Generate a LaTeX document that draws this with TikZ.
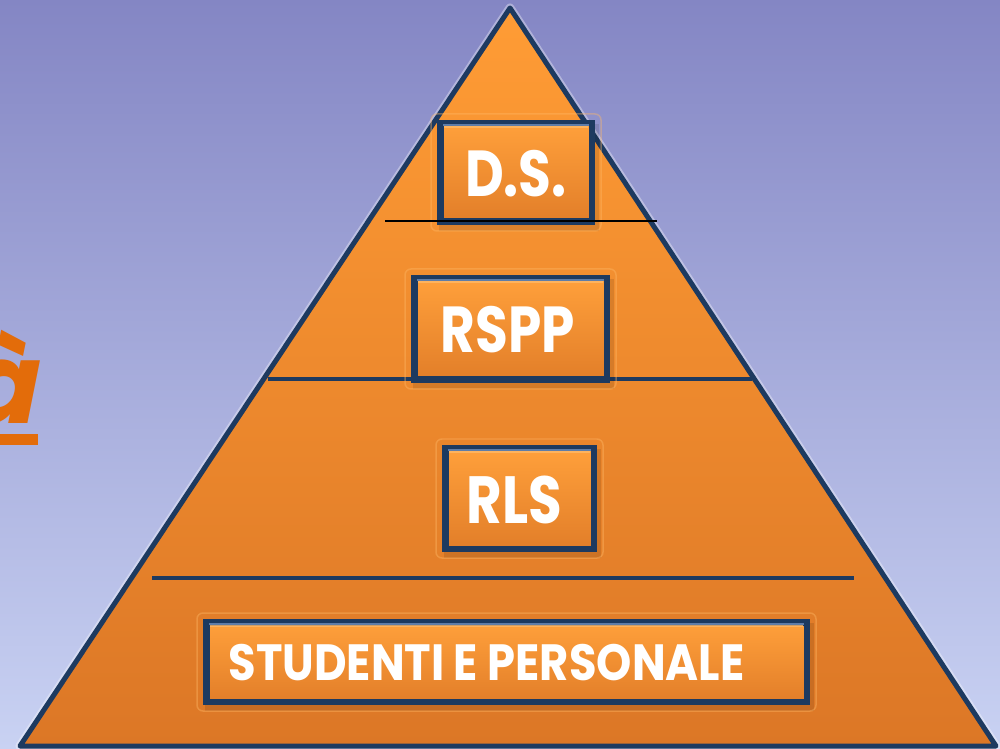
\documentclass[tikz,border=0pt]{standalone}
\usepackage{fontspec}
\newfontfamily\tierfont{Poppins}[FakeStretch=0.82]
\newfontfamily\widetierfont{Poppins}[FakeStretch=0.88]
\newfontfamily\headfont{Poppins}[FakeSlant=0.2]
\definecolor{bgtop}{HTML}{8486C4}
\definecolor{bgbot}{HTML}{C9D2F3}
\definecolor{pyrtop}{HTML}{FF9C35}
\definecolor{pyrbot}{HTML}{DC7726}
\definecolor{navy}{HTML}{1D3A60}
\definecolor{bevel}{HTML}{5F7DA8}
\definecolor{boxtop}{HTML}{FFA03B}
\definecolor{boxbot}{HTML}{E27E29}
\definecolor{headorange}{HTML}{E36C0A}
\definecolor{glowc}{HTML}{FFB866}

\tikzset{
  divider/.style={navy, line width=0.09cm},
  tier/.style={draw=navy, line width=0.13cm, top color=boxtop, bottom color=boxbot,
    inner sep=0pt, rectangle},
  tierglow/.style={draw=glowc, line width=0.03cm, rounded corners=0.12cm, opacity=0.4},
  tiershadow/.style={fill=black, opacity=0.1},
  tierlabel/.style={text=white, inner sep=0pt, anchor=base},
}

% box with glow, drop shadow and bevel: name, cx, cy, width, height
\newcommand\tierbox[5]{%
  \fill[tiershadow] (#2-#4/2+2,#3-#5/2+4) rectangle (#2+#4/2+4,#3+#5/2+6);
  \draw[tierglow] (#2-#4/2-6,#3-#5/2-6) rectangle (#2+#4/2+6,#3+#5/2+6);
  \node[tier, minimum width={(#4-6.5)*0.02cm}, minimum height={(#5-6.5)*0.02cm}] (#1) at (#2,#3) {};
  \draw[bevel, line width=0.04cm] (#2-#4/2+6,#3-#5/2+5) -- (#2+#4/2-6,#3-#5/2+5);
  \draw[glowc, line width=0.03cm, opacity=0.8] (#2-#4/2+7,#3-#5/2+7) -- (#2+#4/2-7,#3-#5/2+7);
}

\begin{document}
\begin{tikzpicture}[x=0.02cm, y=-0.02cm]
\useasboundingbox (0,0) rectangle (1000,749);
\clip (0,0) rectangle (1000,749);

% background
\shade[top color=bgtop, bottom color=bgbot] (0,0) rectangle (1000,749);

% tail of the heading on the left edge
\node[anchor=base east, text=headorange, inner sep=0pt,
      font=\headfont\bfseries\fontsize{64}{64}\selectfont] (headtail) at (35,423) {à};
\fill[headorange] (-5,434) rectangle (38,445);

% pyramid
\coordinate (apex) at (510,8);
\coordinate (baseL) at (20,746);
\coordinate (baseR) at (996,746);
\draw[white, opacity=0.35, line width=0.18cm, line join=round] (apex) -- (baseR) -- (baseL) -- cycle;
\shade[top color=pyrtop, bottom color=pyrbot] (apex) -- (baseR) -- (baseL) -- cycle;
\draw[navy, line width=0.1cm, line join=round] (apex) -- (baseR) -- (baseL) -- cycle;

% level dividers
\draw[divider] (268,379) -- (752,379);
\draw[divider] (152,578) -- (854,578);

% tier boxes
\tierbox{ds}{516}{172.5}{158}{105}
\tierbox{rspp}{510.5}{329}{199}{108}
\tierbox{rls}{519.5}{498.5}{155}{107}
\tierbox{stud}{506.5}{662}{607}{86}

\draw[black, line width=0.05cm] (385,221) -- (657,221);

% labels
\node[tierlabel, font=\tierfont\bfseries\fontsize{37}{37}\selectfont] (dstext) at (516,197) {D.S.};
\node[tierlabel, font=\tierfont\bfseries\fontsize{37}{37}\selectfont] (rspptext) at (507.5,353) {RSPP};
\node[tierlabel, font=\tierfont\bfseries\fontsize{38}{38}\selectfont] (rlstext) at (514.5,523) {RLS};
\node[tierlabel, font=\widetierfont\bfseries\fontsize{29}{29}\selectfont] (studtext) at (486.5,680) {STUDENTI E PERSONALE};
\end{tikzpicture}
\end{document}
